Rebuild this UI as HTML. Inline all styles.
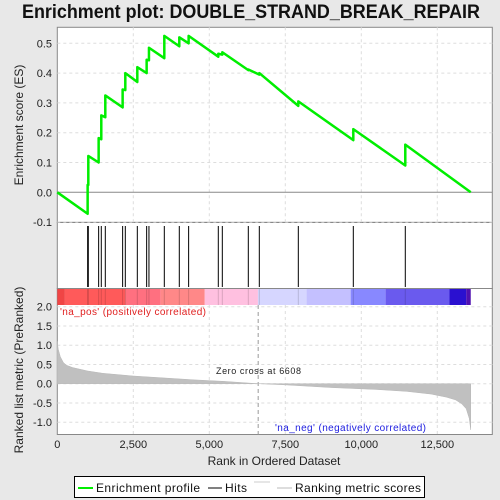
<!DOCTYPE html>
<html><head><meta charset="utf-8"><style>
html,body{margin:0;padding:0;background:#e8e8e8;}
svg{display:block;font-family:"Liberation Sans","DejaVu Sans",sans-serif;}
</style></head><body>
<svg id="chart" width="500" height="500" xmlns="http://www.w3.org/2000/svg">
<rect x="0" y="0" width="500" height="500" fill="#e8e8e8"/>
<text x="22" y="18" textLength="458" lengthAdjust="spacingAndGlyphs" font-size="19" font-weight="bold" fill="#111">Enrichment plot: DOUBLE_STRAND_BREAK_REPAIR</text>
<rect x="57.3" y="27.3" width="435" height="195" fill="#fff" stroke="#888"/>
<rect x="57.3" y="222.5" width="435" height="66" fill="#fff" stroke="#888"/>
<rect x="57.3" y="288.5" width="435" height="146" fill="#fff" stroke="#888"/>
<g id="grid"></g>
<g id="colorbar"></g>
<g id="metric"></g>
<g id="hits"></g>
<g id="es"></g>
<g id="axes"></g>
<text transform="translate(23,125) rotate(-90)" text-anchor="middle" font-size="12" fill="#222">Enrichment score (ES)</text>
<text transform="translate(23,370) rotate(-90)" text-anchor="middle" font-size="12" fill="#222">Ranked list metric (PreRanked)</text>
<text x="274" y="465" text-anchor="middle" font-size="12" fill="#222">Rank in Ordered Dataset</text>
<text x="60" y="315" font-size="10" textLength="146" fill="#e02020">'na_pos' (positively correlated)</text>
<text x="275" y="431" font-size="10" textLength="151" fill="#2020e0">'na_neg' (negatively correlated)</text>
<text x="216" y="374" font-size="9" textLength="85" fill="#222">Zero cross at 6608</text>
<g>
<rect x="74.5" y="476.5" width="350" height="21" fill="#fff" stroke="#000"/>
<line x1="78" y1="488" x2="93" y2="488" stroke="#00ee00" stroke-width="2"/>
<text x="96" y="492" font-size="12" textLength="104" fill="#111">Enrichment profile</text>
<line x1="208" y1="488" x2="222" y2="488" stroke="#000"/>
<text x="225" y="492" font-size="12" textLength="22" fill="#111">Hits</text>
<line x1="254" y1="482" x2="270" y2="482" stroke="#ccc"/>
<line x1="277" y1="488" x2="292" y2="488" stroke="#bbb"/>
<text x="295" y="492" font-size="12" textLength="126" fill="#111">Ranking metric scores</text>
</g>
</svg>
<script>
const hitRanks=[998,1020,1360,1447,1579,2149,2237,2632,2939,3015,3520,4013,4320,5296,5428,6283,6645,7928,9737,11447];
const esPre=[-0.072,0.025,0.10,0.178,0.252,0.285,0.343,0.37,0.40,0.443,0.45,0.49,0.50,0.455,0.462,0.41,0.395,0.29,0.175,0.09];
const esPost=[0.025,0.122,0.182,0.258,0.325,0.345,0.40,0.42,0.445,0.485,0.525,0.52,0.525,0.465,0.47,0.412,0.40,0.305,0.212,0.16];
const totalRank=13600;
const metricRanks=[0,30,100,200,300,500,1000,1500,2500,3500,4500,5500,6608,7500,9000,10500,11500,12300,12800,13100,13300,13450,13550,13600];
const metricVals=[1.1,0.9,0.7,0.55,0.48,0.42,0.33,0.27,0.2,0.15,0.1,0.06,0.0,-0.03,-0.1,-0.15,-0.2,-0.27,-0.35,-0.42,-0.52,-0.65,-0.9,-1.2];
const barStarts=[0,250,2250,3400,4850,6600,8200,9650,10800,12900,13450];
const barColors=["#f04545","#ff5a5a","#ff7080","#ff8888","#ffc0e0","#d6d6ff","#c4c0ff","#8888ff","#6a5aee","#2a10d0","#5010b0"];
const xTicks=[0,2500,5000,7500,10000,12500];
const xTickLabels=["0","2,500","5,000","7,500","10,000","12,500"];
const esTicks=[-0.1,0.0,0.1,0.2,0.3,0.4,0.5];
const metricTicks=[-1.0,-0.5,0.0,0.5,1.0,1.5,2.0];

const NS="http://www.w3.org/2000/svg";
const X=r=>57.3+r*0.0304;
const YE=v=>192.3-v*298;
const YM=v=>383.7-v*38.5;
function mk(parent,tag,attrs){const e=document.createElementNS(NS,tag);for(const k in attrs)e.setAttribute(k,attrs[k]);document.getElementById(parent).appendChild(e);return e;}

xTicks.forEach((t,i)=>{if(i===0)return;
 let g=mk('grid','line',{x1:X(t),x2:X(t),y1:27.3,y2:222.5,stroke:'#ddd','stroke-dasharray':'3,3'});
 
 
 let g2=mk('grid','line',{x1:X(t),x2:X(t),y1:305,y2:434.5,stroke:'#ddd','stroke-dasharray':'3,3'});
 
 
});
esTicks.forEach(t=>{
 let g=mk('grid','line',{x1:57.3,x2:492.3,y1:YE(t),y2:YE(t),stroke:t===0?'#888':'#ddd','stroke-dasharray':t===0?'':'3,3'});
 
 
 let l=mk('axes','text',{x:52,y:YE(t)+4,'text-anchor':'end','font-size':11,fill:'#222'});
 l.textContent=t.toFixed(1);
 
 
});
metricTicks.forEach(t=>{
 let g=mk('grid','line',{x1:57.3,x2:492.3,y1:YM(t),y2:YM(t),stroke:'#ddd','stroke-dasharray':'3,3'});
 
 
 let l=mk('axes','text',{x:52,y:YM(t)+4,'text-anchor':'end','font-size':11,fill:'#222'});
 l.textContent=t.toFixed(1);
 
 
});
xTicks.forEach((t,i)=>{
 let l=mk('axes','text',{x:X(t),y:448,'text-anchor':'middle','font-size':11,fill:'#222'});
 l.textContent=xTickLabels[i];
 
 
});
let zc=mk('grid','line',{x1:X(6608),x2:X(6608),y1:305,y2:434.5,stroke:'#999','stroke-dasharray':'4,3'});


barStarts.forEach((s,i)=>{
 const e=i+1<barStarts.length?barStarts[i+1]:totalRank;
 let r=mk('colorbar','rect',{x:X(s),y:289,width:X(e)-X(s),height:16,fill:barColors[i]});
 
 
});
let d='M'+X(0)+','+YM(0);
metricRanks.forEach((r,i)=>{d+=' L'+X(r)+','+YM(metricVals[i]);});
d+=' L'+X(totalRank)+','+YM(0)+' Z';
let ma=mk('metric','path',{d:d,fill:'#c0c0c0',stroke:'#b8b8b8','stroke-width':0.5});


hitRanks.forEach(r=>{
 let h=mk('hits','line',{x1:X(r),x2:X(r),y1:226,y2:287,stroke:'#000','stroke-width':1});
 
 
 let h2=mk('colorbar','line',{x1:X(r),x2:X(r),y1:289,y2:305,stroke:'rgba(0,0,0,0.15)','stroke-width':1});
 
 
});
let pts=[[0,0]];
hitRanks.forEach((r,i)=>{pts.push([r,esPre[i]]);pts.push([r,esPost[i]]);});
pts.push([totalRank,0]);
let p=mk('es','polyline',{points:pts.map(q=>X(q[0])+','+YE(q[1])).join(' '),fill:'none',stroke:'#00ee00','stroke-width':2.5,'stroke-linejoin':'round'});


</script>
</body></html>
